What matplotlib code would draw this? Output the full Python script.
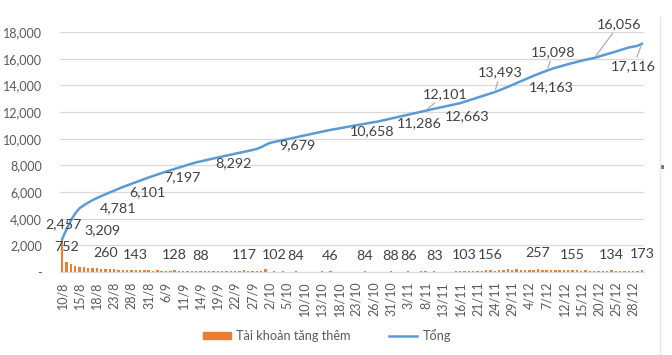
import matplotlib
matplotlib.use("Agg")
import matplotlib.pyplot as plt
from matplotlib.patches import Patch, Rectangle
from matplotlib.lines import Line2D
from matplotlib.ticker import FuncFormatter

plt.rcParams['font.family'] = ['Lato', 'DejaVu Sans']

# ---- data ----
tick_dates = ["10/8", "15/8", "18/8", "23/8", "28/8", "31/8", "6/9", "11/9", "14/9",
              "19/9", "22/9", "27/9", "2/10", "5/10", "10/10", "13/10", "18/10",
              "23/10", "26/10", "31/10", "3/11", "8/11", "13/11", "16/11", "21/11",
              "24/11", "29/11", "4/12", "7/12", "12/12", "15/12", "20/12", "25/12",
              "28/12"]

tong = [2457, 3209, 3850, 4380, 4781, 5000, 5200, 5380, 5540, 5690,
        5830, 5970, 6101, 6240, 6370, 6490, 6610, 6730, 6850, 6970,
        7090, 7197, 7310, 7420, 7530, 7630, 7730, 7830, 7930, 8030,
        8130, 8220, 8292, 8370, 8445, 8520, 8590, 8660, 8730, 8800,
        8870, 8940, 9010, 9080, 9150, 9230, 9360, 9530, 9679, 9750,
        9820, 9890, 9960, 10030, 10100, 10170, 10240, 10310, 10380, 10450,
        10520, 10590, 10658, 10710, 10770, 10830, 10890, 10950, 11010, 11060,
        11120, 11180, 11230, 11286, 11360, 11430, 11510, 11580, 11650, 11730,
        11800, 11880, 11950, 12030, 12101, 12170, 12240, 12310, 12380, 12450,
        12520, 12590, 12663, 12770, 12870, 12970, 13080, 13180, 13290, 13390,
        13493, 13620, 13750, 13880, 14020, 14163, 14300, 14440, 14580, 14720,
        14850, 14975, 15098, 15210, 15315, 15410, 15500, 15590, 15675, 15760,
        15840, 15915, 15985, 16056, 16150, 16245, 16340, 16440, 16540, 16640,
        16740, 16840, 16900, 16960, 17116]

tang_them = [2457, 752, 600, 450, 400, 350, 320, 290, 270, 250,
             260, 210, 190, 180, 170, 160, 150, 143, 130, 120,
             125, 110, 115, 105, 110, 100, 128, 95, 100, 90,
             95, 100, 88, 95, 90, 85, 92, 88, 80, 85,
             90, 82, 117, 85, 80, 90, 85, 240, 0, 102,
             0, 60, 0, 0, 84, 0, 0, 0, 0, 0,
             50, 0, 46, 0, 0, 0, 0, 0, 0, 0,
             84, 0, 0, 0, 0, 0, 88, 0, 0, 0,
             86, 0, 0, 70, 60, 0, 83, 0, 0, 0,
             0, 90, 95, 103, 100, 105, 110, 100, 120, 156,
             110, 120, 130, 200, 120, 210, 130, 140, 150, 130,
             257, 140, 150, 130, 160, 140, 130, 150, 155, 120,
             110, 130, 100, 110, 100, 90, 100, 134, 100, 90,
             80, 90, 70, 60, 173]

# which points carry a data label
bar_label_idx = [1, 10, 17, 26, 32, 42, 49, 54, 62, 70, 76, 80, 86, 93, 99, 110, 118, 127, 134]
line_label_idx = [0, 1, 4, 12, 21, 32, 48, 62, 73, 84, 92, 100, 105, 112, 123, 134]
# label offsets (points) relative to the line point
line_label_off = [(1, 11), (26, -0.5), (28, 0), (24, -1), (21, -0.5), (24, -1), (20, -1.5),
                  (30, -1), (30, -1), (14, 12), (5, -9.5), (4, 14), (25, -3), (5, 13),
                  (18, 24), (-6, -16)]
leader = [False] * 9 + [True, False, True, False, True, True, True]

orange = "#ED7D31"
blue = "#5B9BD5"
txt = "#404040"
tick_col = "#595959"

fig = plt.figure(figsize=(6.72, 3.55), dpi=100)
ax = fig.add_axes([60 / 672, 1 - 272 / 355, 584 / 672, 240 / 355])

x = list(range(len(tong)))
ax.bar(x, tang_them, width=0.55, color=orange, zorder=2)
ax.plot(x, tong, color=blue, lw=1.8, zorder=3)

ax.set_xlim(-0.5, len(tong) - 0.5)
ax.set_ylim(0, 18000)
ax.set_yticks(range(0, 18001, 2000))
ax.yaxis.set_major_formatter(FuncFormatter(lambda v, p: "-" if v == 0 else "{:,.0f}".format(v)))
ax.set_xticks(range(0, 4 * len(tick_dates), 4))
ax.set_xticklabels(tick_dates, rotation=90)
ax.tick_params(axis="both", length=0, labelsize=9, colors=tick_col)
ax.tick_params(axis="x", pad=7)
ax.tick_params(axis="y", pad=13)
ax.grid(axis="y", color="#D9D9D9", lw=0.9, zorder=0)
for s in ["top", "right", "left"]:
    ax.spines[s].set_visible(False)
ax.spines["bottom"].set_color("#D9D9D9")

for i in bar_label_idx:
    ax.annotate("{:,}".format(tang_them[i]), (i, tang_them[i]), xytext=(0, 11),
                textcoords="offset points", ha="center", va="center",
                fontsize=10.3, color=txt, annotation_clip=False)

for i, off, ld in zip(line_label_idx, line_label_off, leader):
    ap = dict(arrowstyle="-", color="#A6A6A6", lw=0.8, shrinkA=0, shrinkB=2) if ld else None
    ax.annotate("{:,}".format(tong[i]), (i, tong[i]), xytext=off,
                textcoords="offset points", ha="center", va="center",
                fontsize=10.3, color=txt, annotation_clip=False, arrowprops=ap)

handles = [Patch(color=orange), Line2D([], [], color=blue, lw=1.8)]
fig.legend(handles, ["Tài khoản tăng thêm", "Tổng"], loc="center",
           bbox_to_anchor=(327 / 672, 1 - 336 / 355), ncol=2, frameon=False,
           fontsize=9.2, labelcolor=tick_col, handlelength=2.2, handleheight=0.45,
           columnspacing=3.0, handletextpad=0.4)

# chart frame edge on the right of the reference
fig.add_artist(Line2D([660 / 672, 660 / 672], [0, 1 - 17 / 355],
                      transform=fig.transFigure, color="#E6E6E6", lw=1))
fig.add_artist(Rectangle((660 / 672, 1 - 169 / 355), 4 / 672, 4 / 355,
                         transform=fig.transFigure, color="#5B7BA6", lw=0))

fig.savefig("out.png", dpi=100)
